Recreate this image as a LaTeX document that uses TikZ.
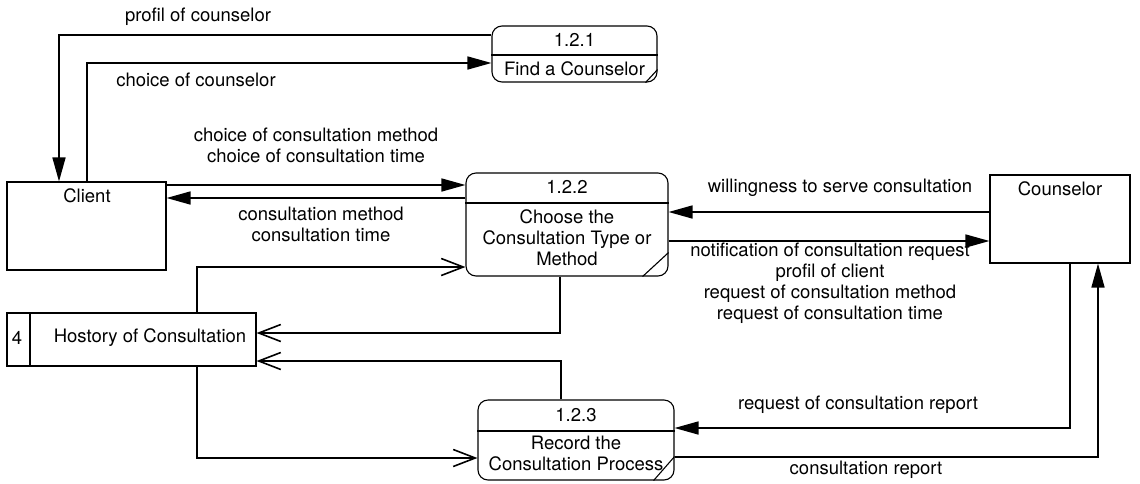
\documentclass[tikz,border=0pt]{standalone}
\usepackage{fontspec}
\setmainfont{TeX Gyre Heros}
\usetikzlibrary{arrows.meta}
\begin{document}
\begin{tikzpicture}[x=1pt,y=-1pt,
  txt/.style={font=\fontsize{18.5}{21}\selectfont, align=center, inner sep=0pt},
  entity/.style={draw, line width=1.1pt, inner sep=0pt},
  proc/.style={draw, line width=1.1pt, rounded corners=10pt, inner sep=0pt},
  flow/.style={line width=1.6pt, -{Triangle[length=24pt,width=13pt]}},
  storeflow/.style={line width=1.6pt, -{Straight Barb[length=22pt,width=17pt,line width=1.6pt]}}]
\useasboundingbox[fill=white] (0,0) rectangle (1140,483);

% external entities
\node[entity, minimum width=159pt, minimum height=88pt] (client) at (86.5,226) {};
\node[txt] (clientlbl) at (87,196) {Client};
\node[entity, minimum width=140pt, minimum height=88pt] (counselor) at (1060,219) {};
\node[txt] (counselorlbl) at (1060,189) {Counselor};

% data store
\node[entity, minimum width=249pt, minimum height=53pt] (store) at (131.5,339.5) {};
\coordinate (sdiv) at (30,0);
\draw[line width=1.1pt] (store.north -| sdiv) -- (store.south -| sdiv);
\node[txt] (storeid) at (17,338) {4};
\node[txt] (storelbl) at (150,338) {Hostory of Consultation};

% processes
\node[proc, minimum width=165pt, minimum height=56pt] (p1) at (574.5,54) {};
\coordinate (h1) at (0,55);
\draw[line width=1.1pt] (p1.west |- h1) -- (p1.east |- h1);
\draw[line width=1.1pt] ([xshift=-12pt]p1.south east) -- ([yshift=13pt]p1.south east);
\node[txt] (p1id) at (574.5,40) {1.2.1};
\node[txt] (p1lbl) at (574.5,69) {Find a Counselor};

\node[proc, minimum width=202pt, minimum height=103pt] (p2) at (567,224.5) {};
\coordinate (h2) at (0,203);
\draw[line width=1.1pt] (p2.west |- h2) -- (p2.east |- h2);
\draw[line width=1.1pt] ([xshift=-26pt]p2.south east) -- ([yshift=24pt]p2.south east);
\node[txt] (p2id) at (567,187) {1.2.2};
\node[txt] (p2lbl) at (567,238) {Choose the\\Consultation Type or\\Method};

\node[proc, minimum width=196pt, minimum height=80pt] (p3) at (576,440) {};
\coordinate (h3) at (0,431);
\draw[line width=1.1pt] (p3.west |- h3) -- (p3.east |- h3);
\draw[line width=1.1pt] ([xshift=-21pt]p3.south east) -- ([yshift=24pt]p3.south east);
\node[txt] (p3id) at (576,415) {1.2.3};
\node[txt] (p3lbl) at (576,453.5) {Record the\\Consultation Process};

% bend points and levels of the flows
\coordinate (b1) at (59,35);
\coordinate (b2) at (87,63);
\coordinate (c1) at (0,185);
\coordinate (c2) at (0,198);
\coordinate (c3) at (0,212);
\coordinate (c4) at (0,241);
\coordinate (b3) at (197,267);
\coordinate (b4) at (560,333);
\coordinate (b5) at (561,361);
\coordinate (b6) at (197,458);
\coordinate (b7) at (1070,428);
\coordinate (b8) at (1098,457);

% flows
\draw[flow] (p1.west |- b1) -- (b1) -- (client.north -| b1);
\draw[flow] (client.north -| b2) -- (b2) -- (p1.west |- b2);
\draw[flow] (client.east |- c1) -- (p2.west |- c1);
\draw[flow] (p2.west |- c2) -- (client.east |- c2);
\draw[flow] (counselor.west |- c3) -- (p2.east |- c3);
\draw[flow] (p2.east |- c4) -- (counselor.west |- c4);
\draw[storeflow] (store.north -| b3) -- (b3) -- (p2.west |- b3);
\draw[storeflow] (p2.south -| b4) -- (b4) -- (store.east |- b4);
\draw[storeflow] (p3.north -| b5) -- (b5) -- (store.east |- b5);
\draw[storeflow] (store.south -| b6) -- (b6) -- (p3.west |- b6);
\draw[flow] (counselor.south -| b7) -- (b7) -- (p3.east |- b7);
\draw[flow] (p3.east |- b8) -- (b8) -- (counselor.south -| b8);

% flow labels
\node[txt] (l1) at (198,17) {profil of counselor};
\node[txt] (l2) at (196,80) {choice of counselor};
\node[txt] (l3) at (316,145) {choice of consultation method\\choice of consultation time};
\node[txt] (l4) at (321,224) {consultation method\\consultation time};
\node[txt] (l5) at (840,188) {willingness to serve consultation};
\node[txt] (l6) at (830,283.5) {notification of consultation request\\profil of client\\request of consultation method\\request of consultation time};
\node[txt] (l7) at (858,405) {request of consultation report};
\node[txt] (l8) at (866,470) {consultation report};
\end{tikzpicture}
\end{document}
